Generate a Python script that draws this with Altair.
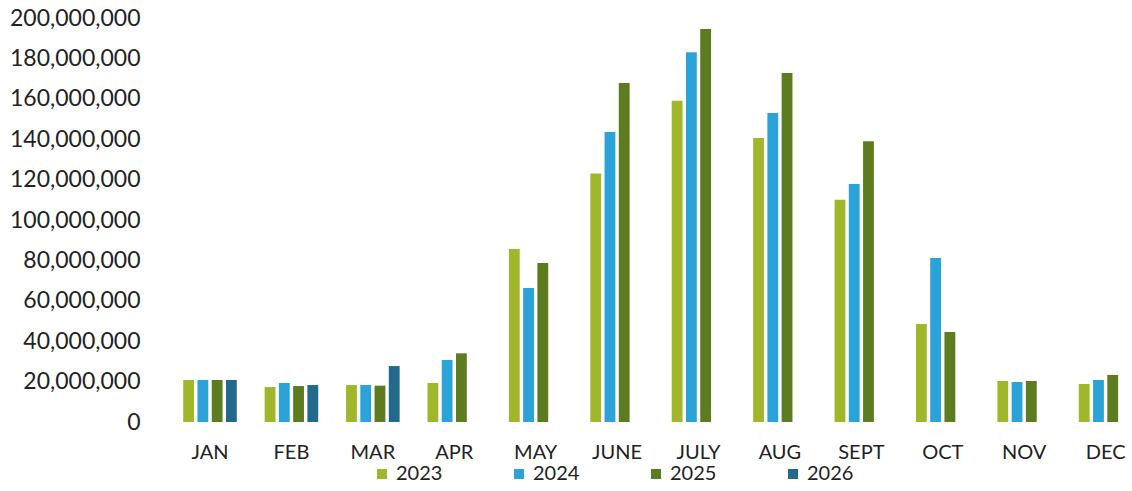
import altair as alt
import pandas as pd

months = ["JAN", "FEB", "MAR", "APR", "MAY", "JUNE", "JULY", "AUG", "SEPT", "OCT", "NOV", "DEC"]
years = ["2023", "2024", "2025", "2026"]
colors = ["#a0b72c", "#2ba2d8", "#5d7b1f", "#22698c"]

v2023 = [20.8, 17.3, 18.3, 19.3, 85.6, 123.0, 159.0, 140.6, 110.0, 48.5, 20.3, 18.8]
v2024 = [20.8, 19.3, 18.3, 30.7, 66.3, 143.6, 183.0, 153.0, 117.8, 81.2, 19.8, 20.8]
v2025 = [20.8, 17.8, 18.0, 34.0, 78.7, 167.8, 194.6, 172.8, 139.0, 44.6, 20.3, 23.3]
v2026 = [20.8, 18.3, 27.7]  # JAN-MAR only

rows = []
for yr, vals in zip(years, [v2023, v2024, v2025, v2026]):
    for m, v in zip(months, vals):
        rows.append({"month": m, "year": yr, "value": v * 1_000_000})
df = pd.DataFrame(rows)

FONT = "Lato"

chart = alt.Chart(df).mark_bar().encode(
    x=alt.X("month:N", sort=months,
            scale=alt.Scale(domain=months, range=[19.3, 996.3], paddingInner=0.3, paddingOuter=0.15),
            axis=alt.Axis(title=None, labelAngle=0, ticks=False, tickSize=0, domain=False,
                          labelPadding=20, labelFontSize=20, labelColor="#222222", labelFont=FONT)),
    xOffset=alt.XOffset("year:N", sort=years,
                        scale=alt.Scale(domain=years, paddingInner=0.24, paddingOuter=0.12)),
    y=alt.Y("value:Q", scale=alt.Scale(domain=[0, 200_000_000], nice=False),
            axis=alt.Axis(title=None, values=list(range(0, 200_000_001, 20_000_000)),
                          format=",d", ticks=False, tickSize=0, domain=False, grid=False,
                          labelPadding=10, labelFontSize=23, labelColor="#222222", labelFont=FONT)),
    color=alt.Color("year:N", sort=years,
                    scale=alt.Scale(domain=years, range=colors),
                    legend=alt.Legend(title=None, orient="none", direction="horizontal",
                                      legendX=222, legendY=446,
                                      symbolType="square", symbolSize=100, symbolStrokeWidth=0,
                                      labelFontSize=20, labelFont=FONT, labelColor="#222222",
                                      labelOffset=4, columnPadding=66)),
).properties(
    width=982, height=404,
    autosize=alt.AutoSizeParams(type="none"),
    padding={"left": 150, "top": 18, "right": 0, "bottom": 69},
).configure(background="white").configure_view(stroke=None, strokeWidth=0)

chart.save("out.html", embed_options={"renderer": "svg", "actions": False})
